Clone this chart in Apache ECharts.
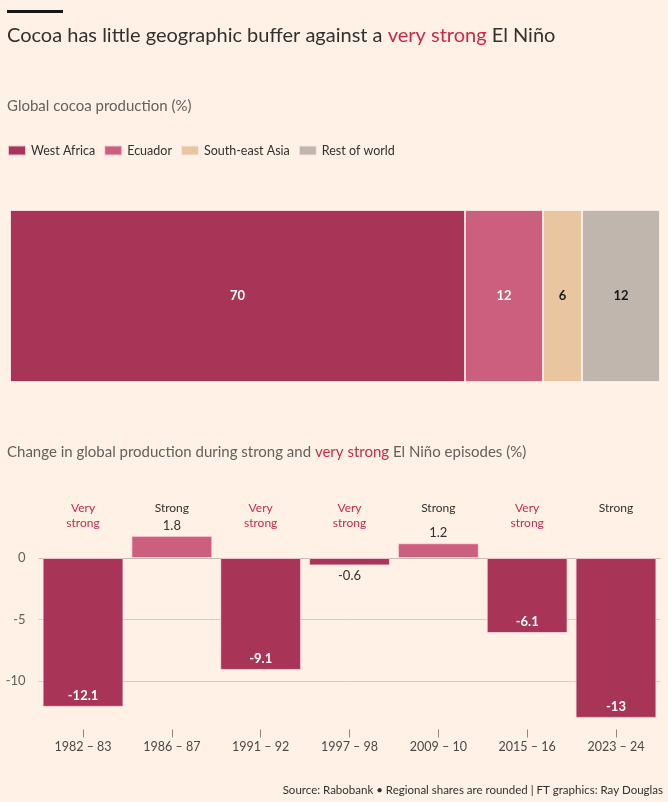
<!DOCTYPE html>
<html>
<head>
<meta charset="utf-8">
<script src="https://cdn.jsdelivr.net/npm/echarts@6/dist/echarts.min.js"></script>
<style>
  html, body { margin: 0; padding: 0; background: #fff1e5; }
  #chart { width: 668px; height: 802px; }
</style>
</head>
<body>
<div id="chart"></div>
<script>
// regional shares of global cocoa production (%)
var regions = ['West Africa', 'Ecuador', 'South-east Asia', 'Rest of world'];
var shares = [70, 12, 6, 12];
var regionColors = ['#a83558', '#cc5f7d', '#e9c6a0', '#c0b6ad'];
var shareLabelColors = ['#fff', '#fff', '#1a1817', '#1a1817'];

// change in production during El Nino episodes (%)
var episodes = ['1982 – 83', '1986 – 87', '1991 – 92', '1997 – 98', '2009 – 10', '2015 – 16', '2023 – 24'];
var strength = ['Very strong', 'Strong', 'Very strong', 'Very strong', 'Strong', 'Very strong', 'Strong'];
var changes = [-12.1, 1.8, -9.1, -0.6, 1.2, -6.1, -13];
var yTicks = [0, -5, -10];

var red = '#cc2a45';
var ink = '#33302e';
var grey = '#66605c';

var chart = echarts.init(document.getElementById('chart'));
var font = 'Lato';

var shareSeries = regions.map(function (name, i) {
    return {
        name: name,
        type: 'bar',
        stack: 'total',
        xAxisIndex: 0,
        yAxisIndex: 0,
        barWidth: '100%',
        data: [shares[i]],
        itemStyle: { color: regionColors[i], borderColor: 'rgba(255,241,241,0.75)', borderWidth: 1 },
        label: {
            show: true,
            position: 'inside',
            color: shareLabelColors[i],
            fontFamily: font,
            fontSize: 13,
            fontWeight: 'bold'
        }
    };
});

var changeData = changes.map(function (v) {
    var lab;
    if (v > 0) {
        lab = { position: 'top', distance: 4, color: ink, fontWeight: 'normal' };
    } else if (v > -1) {
        lab = { position: 'bottom', distance: 4, color: ink, fontWeight: 'normal' };
    } else {
        lab = { position: 'insideBottom', distance: 5, color: '#fff', fontWeight: 'bold' };
    }
    return {
        value: v,
        itemStyle: { color: v > 0 ? regionColors[1] : regionColors[0] },
        label: lab
    };
});

var option = {
    backgroundColor: '#fff1e5',
    textStyle: { fontFamily: font },
    graphic: [{
        type: 'rect',
        left: 7, top: 10,
        shape: { width: 56, height: 3 },
        style: { fill: '#1a1817' }
    }],
    title: [
        {
            left: 7, top: 24, padding: 0,
            text: '{a|Cocoa has little geographic buffer against a }{b|very strong}{a| El Niño}',
            textStyle: {
                rich: {
                    a: { fontFamily: font, fontSize: 20, fontWeight: 'normal', color: ink, lineHeight: 24 },
                    b: { fontFamily: font, fontSize: 20, fontWeight: 'normal', color: red, lineHeight: 24 }
                }
            }
        },
        {
            left: 7, top: 96, padding: 0,
            text: 'Global cocoa production (%)',
            textStyle: { fontFamily: font, fontSize: 15, fontWeight: 'normal', color: grey, lineHeight: 20 }
        },
        {
            left: 7, top: 442, padding: 0,
            text: '{a|Change in global production during strong and }{b|very strong}{a| El Niño episodes (%)}',
            textStyle: {
                rich: {
                    a: { fontFamily: font, fontSize: 15, fontWeight: 'normal', color: grey, lineHeight: 20 },
                    b: { fontFamily: font, fontSize: 15, fontWeight: 'normal', color: red, lineHeight: 20 }
                }
            }
        },
        {
            right: 5, top: 782, padding: 0,
            text: 'Source: Rabobank • Regional shares are rounded | FT graphics: Ray Douglas',
            textStyle: { fontFamily: font, fontSize: 11.5, fontWeight: 'normal', color: ink, lineHeight: 16 }
        }
    ],
    legend: {
        data: regions,
        left: 7, top: 144, padding: 0,
        icon: 'rect',
        itemWidth: 18, itemHeight: 10, itemGap: 8,
        selectedMode: false,
        textStyle: { fontFamily: font, fontSize: 12.5, color: ink }
    },
    grid: [
        { left: 10, right: 8, top: 210, height: 172 },
        { left: 38.6, right: 7.6, top: 496.5, height: 246 }
    ],
    xAxis: [
        { gridIndex: 0, type: 'value', min: 0, max: 100, show: false },
        {
            gridIndex: 1, type: 'category', data: episodes, position: 'bottom', offset: -5,
            axisLine: { show: false, onZero: false },
            axisTick: { show: true, inside: true, length: 8, alignWithLabel: true, lineStyle: { color: '#8f8782' } },
            axisLabel: { margin: 3, color: '#4d4845', fontFamily: font, fontSize: 12.5 }
        },
        {
            gridIndex: 1, type: 'category', data: episodes, position: 'top',
            axisLine: { show: false, onZero: false },
            axisTick: { show: false },
            axisLabel: {
                inside: true, margin: 4,
                formatter: function (v, i) {
                    return strength[i] === 'Strong' ? '{s|Strong}' : '{v|Very}\n{v|strong}';
                },
                rich: {
                    s: { color: ink, fontFamily: font, fontSize: 12, lineHeight: 15 },
                    v: { color: red, fontFamily: font, fontSize: 12, lineHeight: 15 }
                }
            }
        }
    ],
    yAxis: [
        { gridIndex: 0, type: 'category', data: ['World'], show: false },
        {
            gridIndex: 1, type: 'value', min: -15, max: 5, interval: 5,
            axisLine: { show: false }, axisTick: { show: false },
            axisLabel: {
                margin: 13, color: grey, fontFamily: font, fontSize: 13,
                formatter: function (v) { return yTicks.indexOf(v) >= 0 ? String(v) : ''; }
            },
            splitLine: {
                show: true,
                lineStyle: { color: ['rgba(0,0,0,0)', '#d9cdc2', '#d9cdc2', '#c9bdb2', 'rgba(0,0,0,0)'] }
            }
        }
    ],
    series: shareSeries.concat([{
        name: 'Change',
        type: 'bar',
        xAxisIndex: 1,
        yAxisIndex: 1,
        barCategoryGap: '9%',
        data: changeData,
        itemStyle: { borderColor: 'rgba(255,225,230,0.7)', borderWidth: 1 },
        label: { show: true, fontFamily: font, fontSize: 13 }
    }])
};

chart.setOption(option);
</script>
</body>
</html>
